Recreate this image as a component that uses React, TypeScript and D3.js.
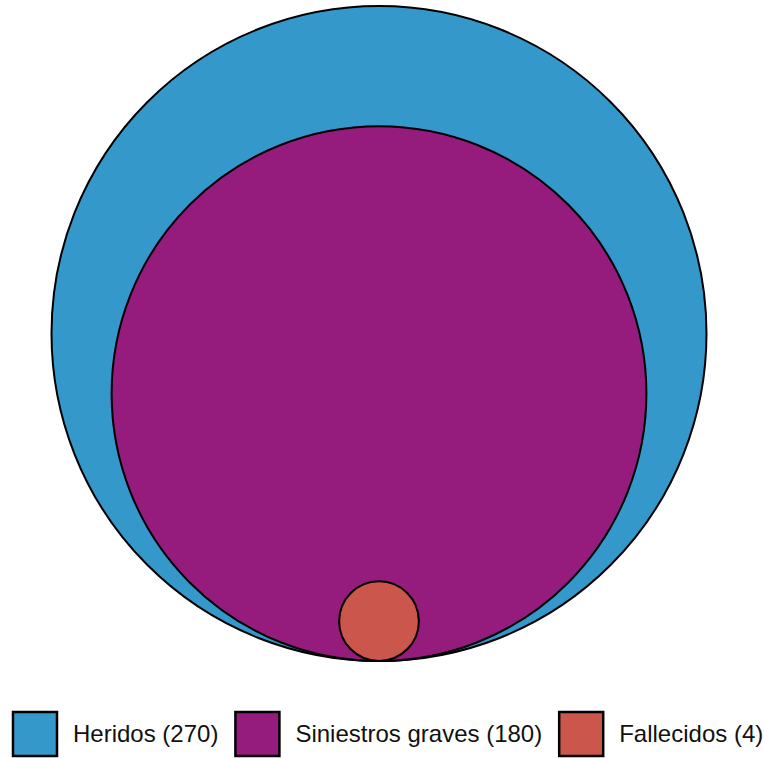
import React, { useEffect, useRef } from "react";
import * as d3 from "d3";

const categories = ["Heridos", "Siniestros graves", "Fallecidos"];
const values = [270, 180, 4];
const colors = ["#3498cb", "#951c7c", "#cb564b"];

const W = 764;
const H = 758;

export default function App() {
  const ref = useRef<SVGSVGElement | null>(null);

  useEffect(() => {
    const svg = d3.select(ref.current);
    svg.selectAll("*").remove();

    const maxR = 327.5;
    const cx = 379;
    const bottom = 661;
    const r = d3.scaleSqrt().domain([0, d3.max(values) as number]).range([0, maxR]);

    const data = categories.map((c, i) => ({ c, v: values[i], color: colors[i] }));

    svg
      .append("g")
      .selectAll("circle")
      .data(data)
      .join("circle")
      .attr("cx", cx)
      .attr("cy", (d) => bottom - r(d.v))
      .attr("r", (d) => r(d.v))
      .attr("fill", (d) => d.color)
      .attr("stroke", "#000")
      .attr("stroke-width", 2);

    // legend
    const lg = svg.append("g");
    const sq = 44;
    const sqY = 712;
    const gapText = 16;
    const gapItem = 17;
    let x = 13;
    data.forEach((d) => {
      lg.append("rect")
        .attr("x", x)
        .attr("y", sqY)
        .attr("width", sq)
        .attr("height", sq)
        .attr("fill", d.color)
        .attr("stroke", "#000")
        .attr("stroke-width", 2.5);
      const t = lg
        .append("text")
        .attr("x", x + sq + gapText)
        .attr("y", sqY + sq / 2)
        .attr("dy", "0.35em")
        .attr("font-family", "'Liberation Sans', Arial, sans-serif")
        .attr("font-size", 24)
        .attr("fill", "#111")
        .text(`${d.c} (${d.v})`);
      const w = (t.node() as SVGTextElement).getComputedTextLength();
      x = x + sq + gapText + w + gapItem;
    });
  }, []);

  return (
    <svg
      ref={ref}
      width={W}
      height={H}
      style={{ position: "absolute", left: 0, top: 0, background: "#fff" }}
    />
  );
}
